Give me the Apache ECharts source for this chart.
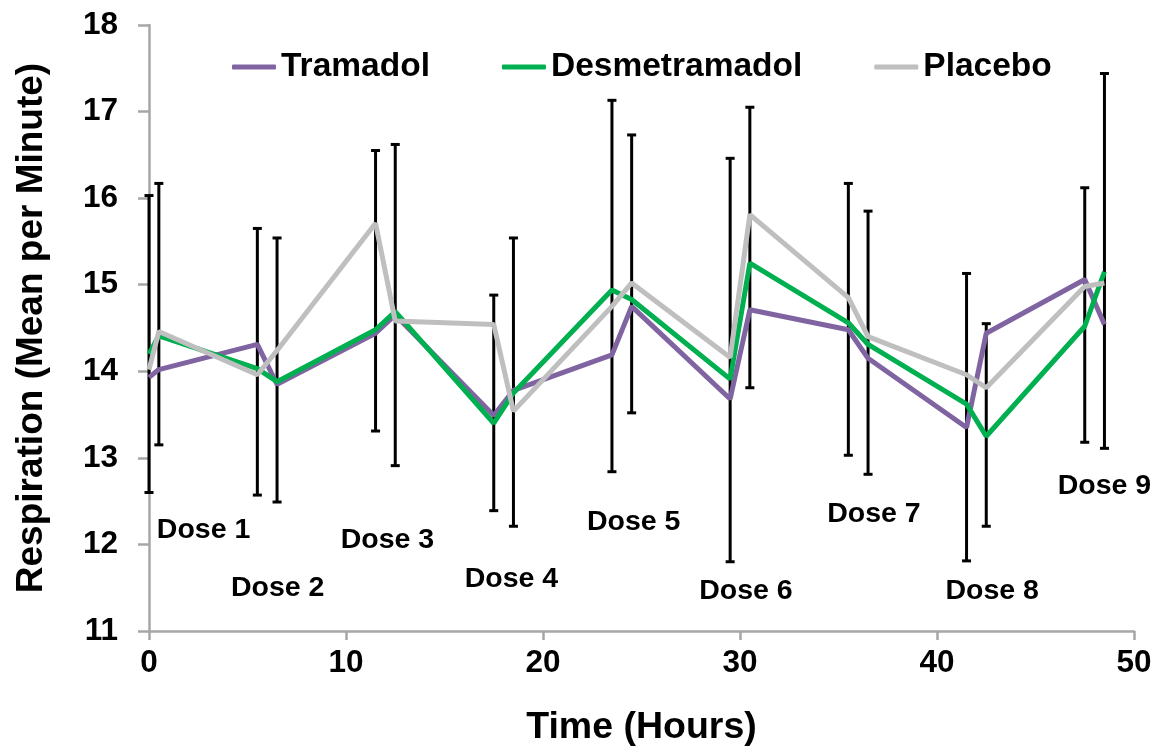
<!DOCTYPE html>
<html>
<head>
<meta charset="utf-8">
<script src="https://cdn.jsdelivr.net/npm/echarts@6/dist/echarts.min.js"></script>
<style>
  html, body { margin: 0; padding: 0; background: #fff; }
  #chart { width: 1168px; height: 752px; }
</style>
</head>
<body>
<div id="chart"></div>
<script>
// time points (hours)
const hours = [0, 0.5, 5.5, 6.5, 11.5, 12.5, 17.5, 18.5, 23.5, 24.5, 29.5, 30.5, 35.5, 36.5, 41.5, 42.5, 47.5, 48.5]

// mean respiration per minute
const tramadol = [13.93, 14.02, 14.31, 13.85, 14.44, 14.65, 13.49, 13.78, 14.19, 14.75, 13.68, 14.71, 14.48, 14.15, 13.35, 14.44, 15.06, 14.54]
const desmetramadol = [14.2, 14.41, 14.03, 13.88, 14.48, 14.69, 13.4, 13.75, 14.94, 14.83, 13.91, 15.25, 14.56, 14.31, 13.62, 13.25, 14.52, 15.15]
const placebo = [14.02, 14.46, 13.96, 14.24, 15.71, 14.58, 14.54, 13.54, 14.75, 15.02, 14.16, 15.81, 14.85, 14.4, 13.96, 13.81, 14.98, 15.02]

// error bar ends
const errLow = [12.6, 13.15, 12.57, 12.49, 13.31, 12.91, 12.39, 12.21, 12.84, 13.52, 11.8, 13.81, 13.03, 12.81, 11.81, 12.21, 13.18, 13.11]
const errHigh = [16.03, 16.17, 15.65, 15.54, 16.55, 16.62, 14.88, 15.54, 17.13, 16.73, 16.46, 17.05, 16.17, 15.85, 15.13, 14.55, 16.12, 17.44]

// dose annotations
const doseNames = ['Dose 1', 'Dose 2', 'Dose 3', 'Dose 4', 'Dose 5', 'Dose 6', 'Dose 7', 'Dose 8', 'Dose 9']
const doseAtX = [2.77, 6.53, 12.1, 18.4, 24.6, 30.3, 36.8, 42.8, 48.5]
const doseAtY = [12.17, 11.5, 12.05, 11.6, 12.26, 11.46, 12.35, 11.46, 12.67]

const FONT = '"Liberation Sans", Arial, sans-serif'

function pairs(ys) {
    return hours.map((h, i) => [h, ys[i]])
}

let chart = echarts.init(document.getElementById('chart'))

const lineSeries = [
    { name: 'Tramadol', color: '#8064A2', data: tramadol },
    { name: 'Desmetramadol', color: '#00B050', data: desmetramadol },
    { name: 'Placebo', color: '#BFBFBF', data: placebo },
].map(s => ({
    name: s.name,
    type: 'line',
    symbol: 'none',
    z: 3,
    color: s.color,
    lineStyle: { width: 5, color: s.color },
    data: pairs(s.data),
}))

let option = {
    animation: false,
    backgroundColor: '#fff',
    textStyle: { fontFamily: FONT },
    grid: { left: 149, right: 34, top: 25, bottom: 119 },
    legend: {
        left: 232,
        top: 50,
        padding: 0,
        itemWidth: 44,
        itemHeight: 5,
        itemGap: 72,
        icon: 'roundRect',
        data: ['Tramadol', 'Desmetramadol', 'Placebo'],
        textStyle: { fontFamily: FONT, fontWeight: 'bold', fontSize: 33.5, color: '#000' },
    },
    xAxis: {
        type: 'value',
        min: 0,
        max: 50,
        interval: 10,
        name: 'Time (Hours)',
        nameLocation: 'middle',
        nameGap: 78,
        nameTextStyle: { fontFamily: FONT, fontWeight: 'bold', fontSize: 37.5, color: '#000' },
        axisLine: { lineStyle: { color: '#A6A6A6', width: 2.5 } },
        axisTick: { show: true, length: 9, lineStyle: { color: '#A6A6A6', width: 2.5 } },
        axisLabel: { margin: 16, fontFamily: FONT, fontWeight: 'bold', fontSize: 31.5, color: '#000' },
        splitLine: { show: false },
    },
    yAxis: {
        type: 'value',
        min: 11,
        max: 18,
        interval: 1,
        name: 'Respiration (Mean per Minute)',
        nameLocation: 'middle',
        nameGap: 99,
        nameTextStyle: { fontFamily: FONT, fontWeight: 'bold', fontSize: 37, color: '#000' },
        axisLine: { show: true, lineStyle: { color: '#A6A6A6', width: 2.5 } },
        axisTick: { show: true, length: 11, lineStyle: { color: '#A6A6A6', width: 2.5 } },
        axisLabel: { margin: 31, fontFamily: FONT, fontWeight: 'bold', fontSize: 31.5, color: '#000' },
        splitLine: { show: false },
    },
    series: [
        {
            // error bars
            type: 'custom',
            z: 2,
            silent: true,
            data: hours.map((h, i) => [h, errLow[i], errHigh[i]]),
            renderItem: function (params, api) {
                const lo = api.coord([api.value(0), api.value(1)])
                const hi = api.coord([api.value(0), api.value(2)])
                const cap = 4.5
                const style = { stroke: '#000', lineWidth: 3 }
                return {
                    type: 'group',
                    children: [
                        { type: 'line', shape: { x1: lo[0], y1: lo[1], x2: hi[0], y2: hi[1] }, style: style },
                        { type: 'line', shape: { x1: hi[0] - cap, y1: hi[1], x2: hi[0] + cap, y2: hi[1] }, style: style },
                        { type: 'line', shape: { x1: lo[0] - cap, y1: lo[1], x2: lo[0] + cap, y2: lo[1] }, style: style },
                    ]
                }
            },
        },
        ...lineSeries,
        {
            // dose labels
            type: 'custom',
            silent: true,
            z: 4,
            data: doseNames.map((n, i) => [doseAtX[i], doseAtY[i], n]),
            renderItem: function (params, api) {
                const p = api.coord([api.value(0), api.value(1)])
                return {
                    type: 'text',
                    x: p[0],
                    y: p[1],
                    style: {
                        text: doseNames[params.dataIndex],
                        fill: '#000',
                        font: 'bold 28.5px ' + FONT,
                        align: 'center',
                        verticalAlign: 'middle',
                    }
                }
            },
        },
    ],
}

chart.setOption(option)
</script>
</body>
</html>
